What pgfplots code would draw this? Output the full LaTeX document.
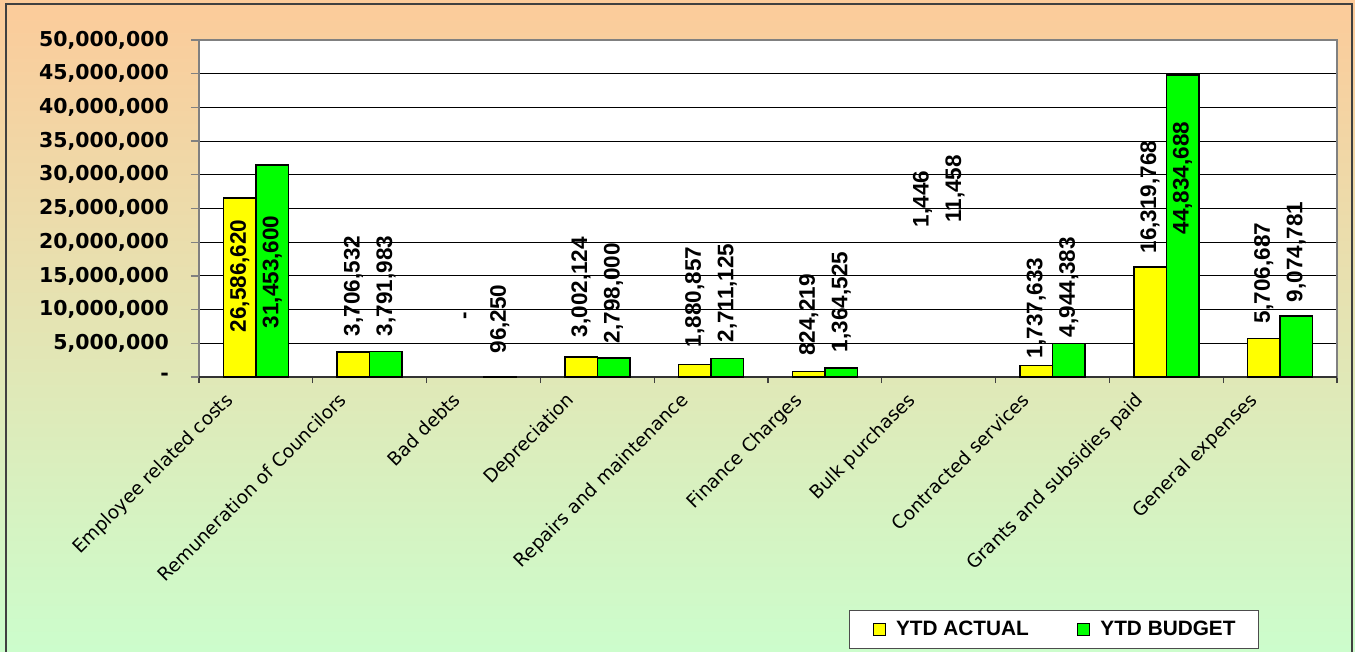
\documentclass[border=0pt]{standalone}
\usepackage{pgfplots}
\pgfplotsset{compat=1.18}
\usepackage{pgfplotstable}
\usepackage{fontspec}
\setmainfont{DejaVu Sans}
\newfontfamily\lib{Liberation Sans}
\definecolor{peach}{HTML}{FCCB9A}
\definecolor{mint}{HTML}{CCFDCC}
\definecolor{frame}{HTML}{404040}
\definecolor{ybar}{HTML}{FFFF00}
\definecolor{gbar}{HTML}{00FF00}

\pgfplotstableread{
x    act       bud       ya       yb       la          lb
0.5  26586620  31453600  15.0e6   15.6e6   26,586,620  31,453,600
1.5  3706532   3791983   13.5e6   13.5e6   3,706,532   3,791,983
2.5  0         96250     9.05e6   8.6e6    -           96,250
3.5  3002124   2798000   13.35e6  12.46e6  3,002,124   2,798,000
4.5  1880857   2711125   11.87e6  12.46e6  1,880,857   2,711,125
5.5  824219    1364525   9.2e6    11.13e6  824,219     1,364,525
6.5  1446      11458     26.4e6   27.9e6   1,446       11,458
7.5  1737633   4944383   10.24e6  13.35e6  1,737,633   4,944,383
8.5  16319768  44834688  26.7e6   29.5e6   16,319,768  44,834,688
9.5  5706687   9074781   15.43e6  18.55e6  5,706,687   9,074,781
}\data

\begin{document}
\begin{tikzpicture}[x=1pt,y=1pt]
\shade[top color=peach, bottom color=mint] (0,0) rectangle (1355,651);
\draw[line width=2pt, frame] (6,-10) rectangle (1352,647);
\begin{axis}[
  at={(199pt,274pt)}, anchor=south west,
  scale only axis, width=1138pt, height=337pt,
  xmin=0, xmax=10, ymin=0, ymax=50000000,
  scaled y ticks=false,
  axis background/.style={fill=white},
  axis line style={draw=gray, line width=1.5pt},
  ytick={0,5000000,10000000,15000000,20000000,25000000,30000000,35000000,40000000,45000000,50000000},
  yticklabels={{-},{5,000,000},{10,000,000},{15,000,000},{20,000,000},{25,000,000},{30,000,000},{35,000,000},{40,000,000},{45,000,000},{50,000,000}},
  ymajorgrids, major grid style={black, line width=1pt},
  xtick={0.5,1.5,2.5,3.5,4.5,5.5,6.5,7.5,8.5,9.5},
  xticklabels={Employee related costs,Remuneration of Councilors,Bad debts,Depreciation,Repairs and maintenance,Finance Charges,Bulk purchases,Contracted services,Grants and subsidies paid,General expenses},
  minor xtick={0,1,2,3,4,5,6,7,8,9,10},
  tick align=outside, xtick pos=bottom, ytick pos=left,
  major tick length=8pt, minor tick length=6pt,
  x tick style={draw=none}, minor x tick style={draw=black!75, line width=1.2pt},
  y tick style={draw=gray, line width=1.2pt},
  yticklabel style={font=\fontsize{20.5}{20.5}\selectfont\bfseries, anchor=east, inner sep=0pt, xshift=-22pt},
  xticklabel style={font=\fontsize{18.5}{18.5}\selectfont, xshift=-32pt, yshift=-6pt, rotate=45, anchor=north east, inner sep=0pt},
  legend columns=2,
  legend style={at={(axis description cs:0.5712,-0.807)}, anchor=south west,
    draw=gray!60!black, line width=1pt, fill=white,
    font=\lib\bfseries\fontsize{20.8}{20.8}\selectfont,
    inner xsep=23pt, inner ysep=11pt,
    nodes={inner sep=0pt},
    /tikz/every odd column/.append style={column sep=10pt},
    /tikz/every even column/.append style={column sep=48pt}},
  mylegend/.style={legend image code/.code={\draw[##1, line width=1.5pt] (0pt,-6pt) rectangle (12pt,6pt);}},
  lbl/.style={draw=none, mark=none, forget plot, nodes near coords, point meta=explicit symbolic,
    nodes near coords style={rotate=90, anchor=center, inner sep=0pt, font=\lib\bfseries\fontsize{22.5}{22.5}\selectfont}},
]
\draw[black!80, line width=2pt] (rel axis cs:0,0) -- (rel axis cs:1,0);
\addplot[ybar, bar width=32.5pt, bar shift=-16.25pt, fill=ybar, draw=black, line width=1.5pt, mylegend, restrict y to domain=20000:100000000] table[x=x, y=act] {\data};
\addlegendentry{YTD ACTUAL}
\addplot[ybar, bar width=32.5pt, bar shift=16.25pt, fill=gbar, draw=black, line width=1.5pt, mylegend, restrict y to domain=20000:100000000] table[x=x, y=bud] {\data};
\addlegendentry{YTD BUDGET}
\addplot[lbl] table[x expr=\thisrow{x}-0.1428, y=ya, meta=la] {\data};
\addplot[lbl] table[x expr=\thisrow{x}+0.1428, y=yb, meta=lb] {\data};
\end{axis}
\pgfresetboundingbox
\path[use as bounding box] (0,0) rectangle (1355,651);
\end{tikzpicture}
\end{document}
